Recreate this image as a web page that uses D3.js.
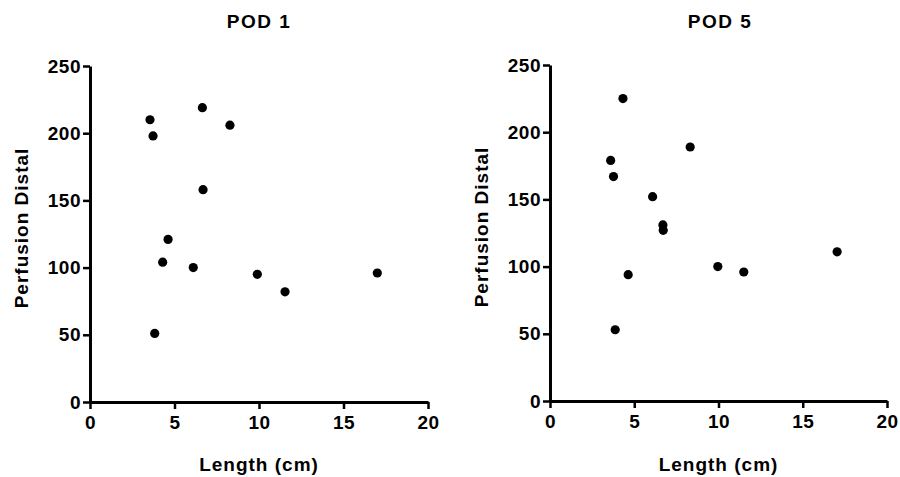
<!DOCTYPE html>
<html>
<head>
<meta charset="utf-8">
<script src="https://cdn.jsdelivr.net/npm/d3@7"></script>
<style>
  html, body { margin: 0; padding: 0; background: #fff; }
  svg { display: block; }
  text { font-family: "Liberation Sans", Arial, sans-serif; font-weight: bold; fill: #000; }
</style>
</head>
<body>
<svg id="chart" width="900" height="477"></svg>
<script>
// ---- data ----
const panelTitles = ["POD 1", "POD 5"];
const xTicks = [0, 5, 10, 15, 20];
const yTicks = [0, 50, 100, 150, 200, 250];
const xLabel = "Length (cm)";
const yLabel = "Perfusion Distal";

const pod1Length = [3.55, 3.73, 6.65, 8.28, 6.69, 4.62, 4.30, 6.11, 9.90, 11.54, 17.0, 3.83];
const pod1Perfusion = [210, 198, 219, 206, 158, 121, 104, 100, 95, 82, 96, 51];

const pod5Length = [4.33, 3.60, 3.77, 8.32, 6.09, 6.70, 6.72, 4.64, 3.87, 9.96, 11.5, 17.04];
const pod5Perfusion = [225, 179, 167, 189, 152, 131, 127, 94, 53, 100, 96, 111];

// ---- layout ----
const panels = [
  { title: panelTitles[0], xs: pod1Length, ys: pod1Perfusion, left: 90, right: 428, top: 66, bottom: 402, titleX: 259, yLabelX: 21 },
  { title: panelTitles[1], xs: pod5Length, ys: pod5Perfusion, left: 550, right: 887, top: 65, bottom: 401, titleX: 720, yLabelX: 481 }
];

const svg = d3.select("#chart");

panels.forEach(p => {
  const x = d3.scaleLinear().domain([0, 20]).range([p.left, p.right]);
  const y = d3.scaleLinear().domain([0, 250]).range([p.bottom, p.top]);
  const g = svg.append("g");

  // title
  g.append("text")
    .attr("x", p.titleX).attr("y", 28)
    .attr("text-anchor", "middle")
    .style("font-size", "19px")
    .style("letter-spacing", "1.5px")
    .text(p.title);

  // x axis
  const xAxis = g.append("g")
    .attr("transform", `translate(0,${p.bottom})`)
    .call(d3.axisBottom(x).tickValues(xTicks).tickSize(7).tickPadding(7).tickSizeOuter(0));
  // y axis
  const yAxis = g.append("g")
    .attr("transform", `translate(${p.left},0)`)
    .call(d3.axisLeft(y).tickValues(yTicks).tickSize(7).tickPadding(2).tickSizeOuter(0));

  [xAxis, yAxis].forEach(a => {
    a.select(".domain").attr("stroke", "#000").attr("stroke-width", 3);
    a.selectAll(".tick line").attr("stroke", "#000").attr("stroke-width", 2.5);
    a.selectAll(".tick text")
      .style("font-size", "19px")
      .style("font-family", "'Liberation Sans', Arial, sans-serif")
      .style("font-weight", "bold")
      .style("letter-spacing", "0.5px")
      .attr("fill", "#000");
  });

  // axis labels
  g.append("text")
    .attr("x", (p.left + p.right) / 2).attr("y", 471)
    .attr("text-anchor", "middle")
    .style("font-size", "19px")
    .style("letter-spacing", "1px")
    .text(xLabel);

  g.append("text")
    .attr("transform", `translate(${p.yLabelX + 7},${(p.top + p.bottom) / 2 - 6}) rotate(-90)`)
    .attr("text-anchor", "middle")
    .style("font-size", "19px")
    .style("letter-spacing", "1px")
    .text(yLabel);

  // points
  const pts = p.xs.map((v, i) => ({ x: v, y: p.ys[i] }));
  g.selectAll("circle").data(pts).enter().append("circle")
    .attr("cx", d => x(d.x))
    .attr("cy", d => y(d.y))
    .attr("r", 4.6)
    .attr("fill", "#000");
});
</script>
</body>
</html>
